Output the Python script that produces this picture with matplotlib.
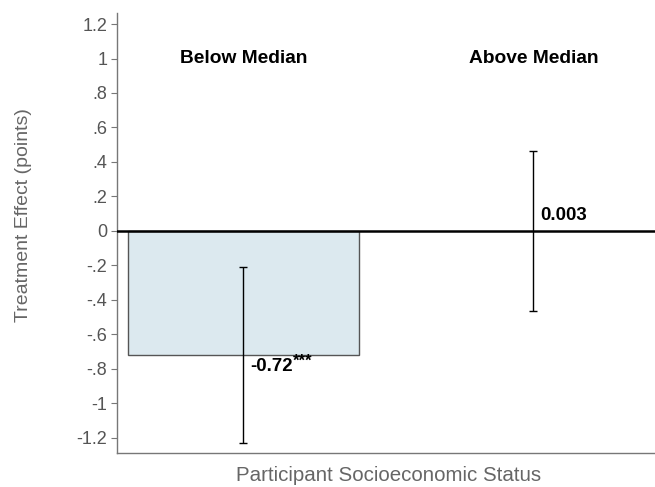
import numpy as np
import matplotlib
matplotlib.use("Agg")
import matplotlib.pyplot as plt

plt.rcParams['font.family'] = ['Liberation Sans', 'DejaVu Sans']

# data
groups = ["Below Median", "Above Median"]
effects = [-0.72, 0.003]
ci_low = [-1.23, -0.466]
ci_high = [-0.21, 0.466]
effect_labels = ["-0.72", "0.003"]
stars = ["***", ""]
yticks = [-1.2, -1, -0.8, -0.6, -0.4, -0.2, 0, 0.2, 0.4, 0.6, 0.8, 1, 1.2]
yticklabels = ["-1.2", "-1", "-.8", "-.6", "-.4", "-.2", "0", ".2", ".4", ".6", ".8", "1", "1.2"]

fig = plt.figure(figsize=(6.55, 4.87), dpi=100)
ax = fig.add_axes([0.1786, 0.0698, 0.8214, 0.9034])

x = np.arange(len(groups))
# only the first group has a visible bar
ax.bar(x[0], effects[0], width=0.795, color="#dce9ef", edgecolor="#555555", linewidth=1.0, zorder=2)

yerr = np.array([[e - lo for e, lo in zip(effects, ci_low)],
                 [hi - e for e, hi in zip(effects, ci_high)]])
ax.errorbar(x, effects, yerr=yerr, fmt="none", ecolor="black", elinewidth=1.0,
            capsize=3, capthick=1.0, zorder=4)

ax.axhline(0, color="black", linewidth=1.8, zorder=3)

# value labels
label_y = [-0.79, 0.087]
for xi, ly, lab, st in zip(x, label_y, effect_labels, stars):
    t = ax.text(xi + 0.025, ly, lab, ha="left", va="center", fontsize=13.4,
                fontweight="bold", zorder=5)
    if st:
        # superscript-like significance stars
        ax.annotate(st, xy=(1, 1), xycoords=t, xytext=(0, 3), textcoords="offset points",
                    ha="left", va="top", fontsize=12, fontweight="bold")

for xi, g in zip(x, groups):
    ax.text(xi, 1.0, g, ha="center", va="center", fontsize=13.8, fontweight="bold")

ax.set_xlim(-0.436, 1.42)
ax.set_ylim(-1.29, 1.264)
ax.set_yticks(yticks)
ax.set_yticklabels(yticklabels)
ax.set_xticks([])

for s in ["top", "right"]:
    ax.spines[s].set_visible(False)
for s in ["left", "bottom"]:
    ax.spines[s].set_color("#777777")
    ax.spines[s].set_linewidth(1.0)

ax.tick_params(axis="y", colors="#777777", labelcolor="#555555", labelsize=13,
               length=4, width=0.8, pad=3)

ax.set_xlabel("Participant Socioeconomic Status", fontsize=14.8, color="#666666")
ax.set_ylabel("Treatment Effect (points)", fontsize=14, color="#666666")
ax.xaxis.set_label_coords(0.504, -0.03)
ax.yaxis.set_label_coords(-0.158, 0.541)

fig.savefig("out.png", dpi=100)
